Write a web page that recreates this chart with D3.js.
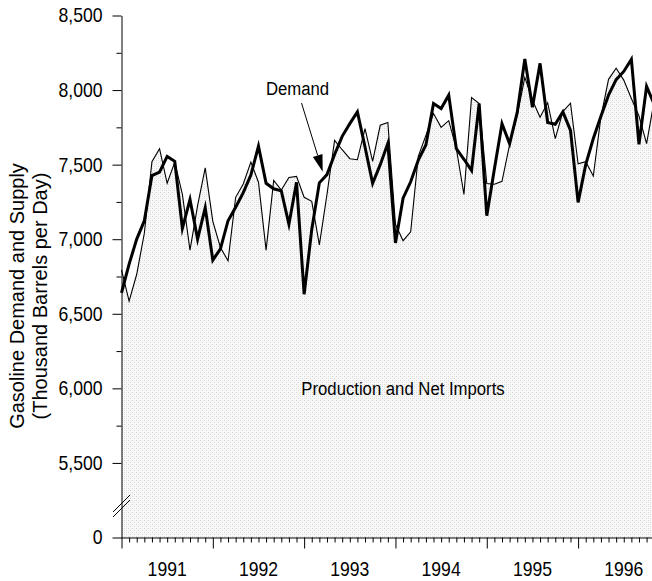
<!DOCTYPE html>
<html>
<head>
<meta charset="utf-8">
<script src="https://cdn.jsdelivr.net/npm/d3@7"></script>
<style>
  html, body { margin: 0; padding: 0; background: #fff; }
  svg { display: block; }
  text { font-family: "Liberation Sans", Arial, Helvetica, sans-serif; fill: #000; }
</style>
</head>
<body>
<svg id="chart" width="652" height="581"></svg>
<script>
// ---- Data (monthly, Jan 1991 onward, thousand barrels per day) ----
const demand1991 = [6640, 6833, 7001, 7124, 7427, 7450, 7555, 7522, 7072, 7266, 7001, 7212];
const demand1992 = [6860, 6935, 7124, 7214, 7312, 7430, 7624, 7375, 7338, 7324, 7100, 7382];
const demand1993 = [6631, 7065, 7378, 7433, 7568, 7690, 7775, 7854, 7618, 7375, 7500, 7643];
const demand1994 = [6975, 7275, 7385, 7530, 7632, 7910, 7876, 7966, 7607, 7536, 7461, 7910];
const demand1995 = [7158, 7470, 7775, 7641, 7850, 8208, 7885, 8179, 7783, 7771, 7854, 7730];
const demand1996 = [7247, 7500, 7675, 7825, 7966, 8070, 8125, 8206, 7636, 8025, 7905];

const supply1991 = [6795, 6585, 6765, 7040, 7520, 7607, 7375, 7517, 7300, 6927, 7225, 7478];
const supply1992 = [7120, 6945, 6855, 7281, 7370, 7517, 7382, 6927, 7394, 7330, 7414, 7421];
const supply1993 = [7281, 7254, 6962, 7300, 7663, 7600, 7540, 7533, 7742, 7522, 7764, 7783];
const supply1994 = [7100, 6990, 7050, 7556, 7696, 7843, 7750, 7795, 7607, 7300, 7950, 7910];
const supply1995 = [7373, 7369, 7388, 7635, 7830, 8085, 7932, 7818, 7915, 7674, 7856, 7912];
const supply1996 = [7506, 7520, 7424, 7821, 8072, 8146, 8067, 7943, 7826, 7641, 7930];

const demand = [].concat(demand1991, demand1992, demand1993, demand1994, demand1995, demand1996);
const supply = [].concat(supply1991, supply1992, supply1993, supply1994, supply1995, supply1996);

const years = ["1991", "1992", "1993", "1994", "1995", "1996"];
const yMajorTicks = [5000, 5500, 6000, 6500, 7000, 7500, 8000, 8500];
const yMajorLabels = ["0", "5,500", "6,000", "6,500", "7,000", "7,500", "8,000", "8,500"];
const yMinorTicks = [5750, 6250, 6750, 7250, 7750, 8250];
const yTitle = ["Gasoline Demand and Supply", "(Thousand Barrels per Day)"];
const demandLabel = "Demand";
const supplyLabel = "Production and Net Imports";

// ---- Layout ----
const svg = d3.select("#chart");
const X0 = 121.5, MONTH = 7.61;
const nMonths = demand.length - 1;
const x = d3.scaleLinear().domain([0, nMonths]).range([X0, X0 + nMonths * MONTH]);
const y = d3.scaleLinear().domain([5000, 8500]).range([537.5, 15.5]);
const SX = 0.88; // horizontal compression of text
const FS = 20;

// pattern fill
const defs = svg.append("defs");
const pat = defs.append("pattern").attr("id", "dots")
  .attr("patternUnits", "userSpaceOnUse").attr("width", 4).attr("height", 4);
pat.append("rect").attr("width", 4).attr("height", 4).attr("fill", "#f9f9f9");
pat.append("rect").attr("x", 0).attr("y", 0).attr("width", 1).attr("height", 1).attr("fill", "#d6d6d6");
pat.append("rect").attr("x", 2).attr("y", 2).attr("width", 1).attr("height", 1).attr("fill", "#d6d6d6");
pat.append("rect").attr("x", 2).attr("y", 0).attr("width", 1).attr("height", 1).attr("fill", "#e9e9e9");
pat.append("rect").attr("x", 0).attr("y", 2).attr("width", 1).attr("height", 1).attr("fill", "#e9e9e9");

// area under supply
const area = d3.area().x((d, i) => x(i)).y0(y(5000)).y1(d => y(d));
svg.append("path").datum(supply).attr("d", area).attr("fill", "url(#dots)");

// lines
const line = d3.line().x((d, i) => x(i)).y(d => y(d));
svg.append("path").datum(supply).attr("d", line)
  .attr("fill", "none").attr("stroke", "#000").attr("stroke-width", 1.1)
  .attr("stroke-linejoin", "miter");
svg.append("path").datum(demand).attr("d", line)
  .attr("fill", "none").attr("stroke", "#000").attr("stroke-width", 3)
  .attr("stroke-linejoin", "miter").attr("stroke-miterlimit", 6);

// ---- Y axis ----
const yAxisMajor = d3.axisLeft(y).tickValues(yMajorTicks).tickSize(9).tickSizeOuter(0)
  .tickFormat((d, i) => yMajorLabels[i]);
const gy = svg.append("g").attr("transform", `translate(${X0},0)`).call(yAxisMajor);
gy.selectAll("text").attr("x", -19 / SX).attr("transform", `scale(${SX},1)`)
  .style("font-size", FS + "px").attr("font-family", null);
const yAxisMinor = d3.axisLeft(y).tickValues(yMinorTicks).tickSize(5).tickSizeOuter(0).tickFormat("");
const gy2 = svg.append("g").attr("transform", `translate(${X0},0)`).call(yAxisMinor);
gy2.select(".domain").remove();

// axis break marks
const brk = svg.append("g").attr("stroke", "#000").attr("stroke-width", 1);
brk.append("line").attr("x1", X0 - 8.5).attr("y1", 512).attr("x2", X0 + 8.5).attr("y2", 495);
brk.append("line").attr("x1", X0 - 8.5).attr("y1", 517).attr("x2", X0 + 8.5).attr("y2", 500);

// ---- X axis ----
const majorIdx = d3.range(0, nMonths + 1, 12);
const minorIdx = d3.range(0, nMonths + 1).filter(i => i % 12 !== 0);
const xAxisMajor = d3.axisBottom(x).tickValues(majorIdx).tickSize(11).tickSizeOuter(0).tickFormat("");
const gx = svg.append("g").attr("transform", `translate(0,${y(5000)})`).call(xAxisMajor);
gx.select(".domain").attr("d", `M${X0},0.5H652`);
const xAxisMinor = d3.axisBottom(x).tickValues(minorIdx).tickSize(5).tickSizeOuter(0).tickFormat("");
const gx2 = svg.append("g").attr("transform", `translate(0,${y(5000)})`).call(xAxisMinor);
gx2.select(".domain").remove();

svg.append("g").selectAll("text").data(years).join("text")
  .attr("transform", (d, i) => `translate(${x(i * 12 + 6)},576) scale(${SX},1)`)
  .attr("text-anchor", "middle").style("font-size", FS + "px").text(d => d);

// ---- Y title ----
svg.append("g").selectAll("text").data(yTitle).join("text")
  .attr("transform", (d, i) => `translate(${24 + i * 23},296) rotate(-90)`)
  .attr("text-anchor", "middle").style("font-size", FS + "px").text(d => d);

// ---- Annotations ----
svg.append("text").attr("transform", `translate(266,95) scale(${SX},1)`)
  .style("font-size", "19px").text(demandLabel);
const ax1 = 301.5, ay1 = 103, ax2 = 322.7, ay2 = 171.7;
const ang = Math.atan2(ay2 - ay1, ax2 - ax1);
const hl = 17, hw = 5;
const bx = ax2 - hl * Math.cos(ang), by = ay2 - hl * Math.sin(ang);
svg.append("line").attr("x1", ax1).attr("y1", ay1).attr("x2", bx).attr("y2", by)
  .attr("stroke", "#000").attr("stroke-width", 1);
svg.append("path").attr("d",
  `M${ax2},${ay2}L${bx + hw * Math.sin(ang)},${by - hw * Math.cos(ang)}L${bx - hw * Math.sin(ang)},${by + hw * Math.cos(ang)}Z`)
  .attr("fill", "#000");

svg.append("text").attr("transform", `translate(403,395) scale(${SX},1)`)
  .attr("text-anchor", "middle").style("font-size", "19px").text(supplyLabel);

svg.selectAll(".tick line").attr("stroke", "#000");
svg.selectAll(".domain").attr("stroke", "#000");
</script>
</body>
</html>
